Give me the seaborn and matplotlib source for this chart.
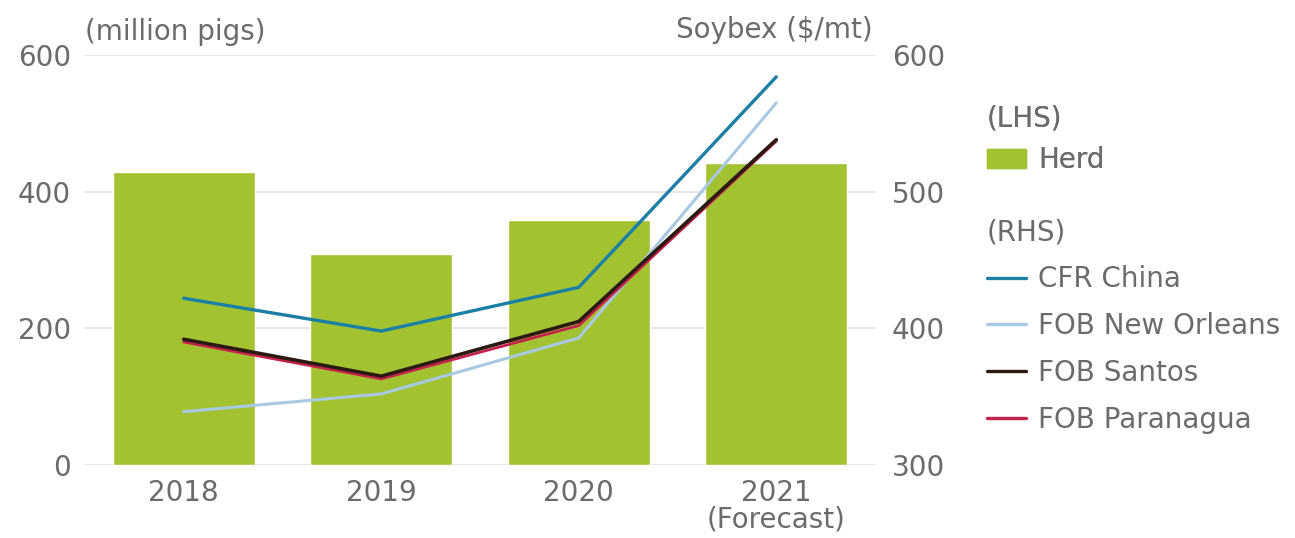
import numpy as np
import pandas as pd
import matplotlib
matplotlib.use("Agg")
import matplotlib.pyplot as plt
import seaborn as sns
from matplotlib.patches import Patch
from matplotlib.lines import Line2D

years = ["2018", "2019", "2020", "2021\n(Forecast)"]
herd = [429, 309, 358, 442]
cfr_china = [422, 398, 430, 584]
fob_new_orleans = [339, 352, 393, 565]
fob_santos = [392, 365, 405, 538]
fob_paranagua = [390, 363, 402, 537]

series_names = ["CFR China", "FOB New Orleans", "FOB Santos", "FOB Paranagua"]
series_values = [cfr_china, fob_new_orleans, fob_santos, fob_paranagua]
series_colors = ["#1b7fa6", "#a9c9e2", "#2b1a12", "#c8204c"]
series_widths = [2.4, 2.2, 2.6, 2.0]

bar_color = "#a3c232"
text_color = "#6b6b6b"
grid_color = "#e0e0e0"
fs = 20

sns.set_style("white")
plt.rcParams["font.family"] = ["DejaVu Sans"]

fig = plt.figure(figsize=(12.95, 5.38), dpi=100)
ax = fig.add_axes([0.0656, 0.1357, 0.6101, 0.7621])

herd_df = pd.DataFrame({"year": years, "herd": herd})
sns.barplot(data=herd_df, x="year", y="herd", color=bar_color, saturation=1,
            width=0.72, ax=ax, zorder=2)
ax.set_ylim(0, 600)
ax.set_xlim(-0.5, 3.5)
ax.set_yticks([0, 200, 400, 600])
for y in [0, 200, 400, 600]:
    ax.axhline(y, color=grid_color, lw=1.2, zorder=0)
ax.set_xlabel("")
ax.set_ylabel("")
for s in ax.spines.values():
    s.set_visible(False)
ax.tick_params(axis="both", length=0, labelsize=fs, labelcolor=text_color)
ax.tick_params(axis="y", pad=10)
ax.tick_params(axis="x", pad=10)
for lbl in ax.get_xticklabels():
    lbl.set_linespacing(0.95)

ax2 = ax.twinx()
ax2.set_position(ax.get_position())
pos = np.arange(len(years))
for name, vals, col, lw in zip(series_names, series_values, series_colors, series_widths):
    df = pd.DataFrame({"x": pos, "price": vals})
    sns.lineplot(data=df, x="x", y="price", color=col, lw=lw, ax=ax2, zorder=3)
# keep santos drawn above paranagua
ax2.lines[2].set_zorder(4)
ax2.set_ylim(300, 600)
ax2.set_xlim(-0.5, 3.5)
ax2.set_yticks([300, 400, 500, 600])
ax2.set_ylabel("")
ax2.set_xlabel("")
for s in ax2.spines.values():
    s.set_visible(False)
ax2.tick_params(axis="y", length=0, labelsize=fs, labelcolor=text_color, pad=12)
ax2.grid(False)

fig.text(0.0656, 0.94, "(million pigs)", fontsize=fs, color=text_color, ha="left", va="center")
fig.text(0.674, 0.944, "Soybex ($/mt)", fontsize=fs, color=text_color, ha="right", va="center")

leg_kw = dict(loc="upper left", frameon=False, fontsize=fs, title_fontsize=fs,
              handlelength=1.4, handletextpad=0.45, borderaxespad=0, borderpad=0)

leg1 = fig.legend(handles=[Patch(color=bar_color, label="Herd")], title="(LHS)",
                  bbox_to_anchor=(0.762, 0.806), handleheight=0.65, **leg_kw)
leg1._legend_box.align = "left"
leg1.get_title().set_color(text_color)
for t in leg1.get_texts():
    t.set_color(text_color)

line_handles = [Line2D([], [], color=c, lw=2.4, label=n) for n, c in zip(series_names, series_colors)]
leg2 = fig.legend(handles=line_handles, title="(RHS)", bbox_to_anchor=(0.762, 0.594),
                  labelspacing=0.68, **leg_kw)
leg2._legend_box.align = "left"
leg2.get_title().set_color(text_color)
for t in leg2.get_texts():
    t.set_color(text_color)
fig.add_artist(leg1)

fig.savefig("out.png", dpi=100, facecolor="white")
